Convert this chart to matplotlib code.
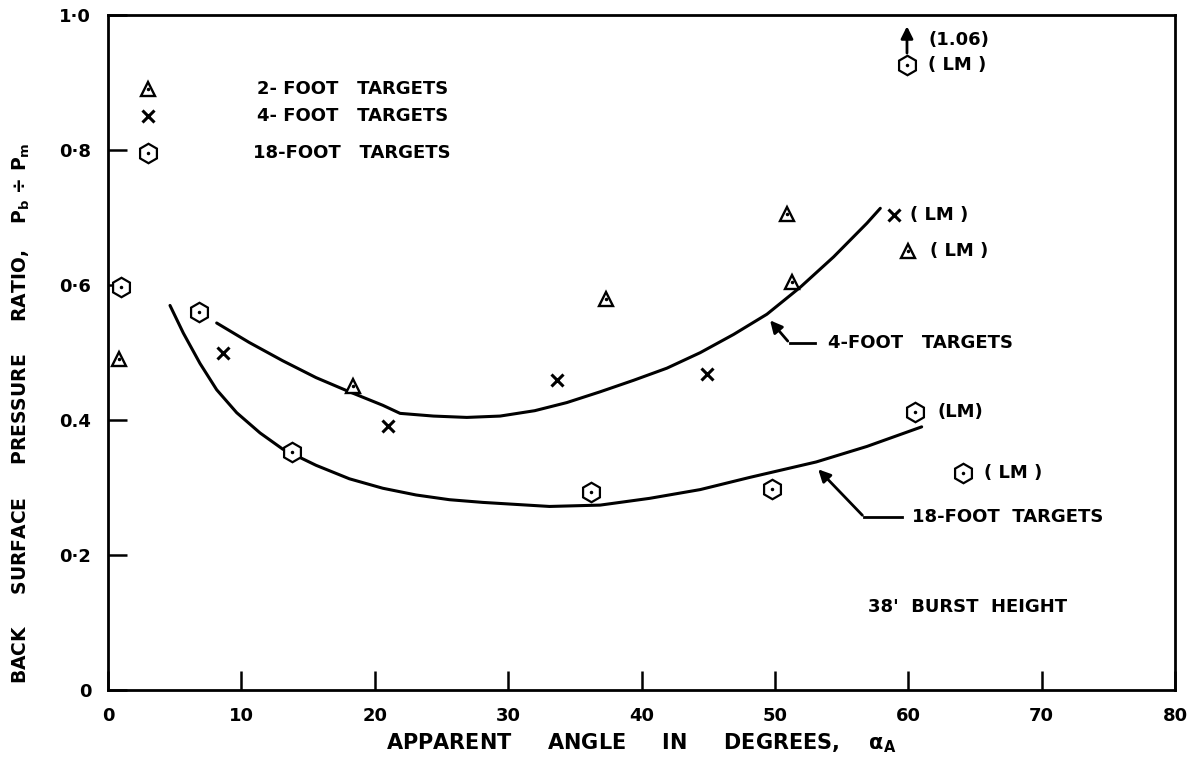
import matplotlib
matplotlib.use("Agg")
import matplotlib.pyplot as plt

plt.rcParams['font.family'] = ['DejaVu Sans']
plt.rcParams['font.weight'] = 'bold'
plt.rcParams['mathtext.default'] = 'bf'

# measured points
two_ft_x = [0.8, 18.4, 37.3, 50.9, 51.3, 60.0]
two_ft_y = [0.49, 0.45, 0.58, 0.705, 0.605, 0.65]
four_ft_x = [8.6, 21.0, 33.7, 44.9, 58.9]
four_ft_y = [0.50, 0.391, 0.46, 0.469, 0.704]
eighteen_ft_x = [1.0, 6.8, 13.8, 36.2, 49.8, 60.5, 64.1, 59.9]
eighteen_ft_y = [0.597, 0.561, 0.353, 0.293, 0.298, 0.412, 0.322, 0.926]

# faired curves
curve4_x = [8.15, 10.6, 13.1, 15.6, 18.1, 20.6, 21.9, 24.4, 26.9, 29.4, 32.0, 34.4, 36.9,
            39.4, 41.9, 44.4, 46.9, 49.4, 51.9, 54.4, 56.9, 57.9]
curve4_y = [0.544, 0.515, 0.488, 0.463, 0.442, 0.422, 0.410, 0.406, 0.404, 0.406, 0.414, 0.426, 0.442,
            0.459, 0.477, 0.500, 0.527, 0.557, 0.597, 0.642, 0.692, 0.714]
curve18_x = [4.65, 5.65, 6.9, 8.15, 9.65, 11.4, 13.1, 15.6, 18.1, 20.6, 23.1, 25.6, 28.1,
             30.6, 33.1, 36.9, 40.6, 44.4, 48.1, 53.1, 56.9, 61.0]
curve18_y = [0.570, 0.529, 0.484, 0.445, 0.411, 0.381, 0.357, 0.333, 0.313, 0.299, 0.289, 0.282, 0.278,
             0.275, 0.272, 0.274, 0.284, 0.297, 0.315, 0.338, 0.361, 0.390]

xticks = [0, 10, 20, 30, 40, 50, 60, 70, 80]
yticks = [0, 0.2, 0.4, 0.6, 0.8, 1.0]
ytick_labels = ['0', '0·2', '0.4', '0·6', '0·8', '1·0']

fig = plt.figure(figsize=(11.93, 7.70), dpi=100)
ax = fig.add_axes([0.0905, 0.104, 0.8945, 0.876])
ax.set_xlim(0, 80)
ax.set_ylim(0, 1.0)

ax.plot(curve4_x, curve4_y, color='black', lw=2.2, solid_capstyle='round', solid_joinstyle='round')
ax.plot(curve18_x, curve18_y, color='black', lw=2.2, solid_capstyle='round', solid_joinstyle='round')

tri = dict(ls='none', marker='^', ms=10.5, mfc='white', mec='black', mew=1.7)
hexa = dict(ls='none', marker='h', ms=14, mfc='white', mec='black', mew=1.6)
cross = dict(ls='none', marker='x', ms=9, mec='black', mew=2.2)
dot = dict(ls='none', marker='.', ms=3, color='black')

ax.plot(two_ft_x, two_ft_y, **tri)
ax.plot(two_ft_x, two_ft_y, **dot)
ax.plot(four_ft_x, four_ft_y, **cross)
ax.plot(eighteen_ft_x, eighteen_ft_y, **hexa)
ax.plot(eighteen_ft_x, eighteen_ft_y, **dot)

# legend drawn by hand, like the original
ax.plot([3.0], [0.891], **tri)
ax.plot([3.0], [0.891], **dot)
ax.plot([3.0], [0.851], **cross)
ax.plot([3.0], [0.796], **hexa)
ax.plot([3.0], [0.796], **dot)
fs = 13
ax.text(11.2, 0.891, '2- FOOT   TARGETS', fontsize=fs, va='center')
ax.text(11.2, 0.851, '4- FOOT   TARGETS', fontsize=fs, va='center')
ax.text(10.9, 0.796, '18-FOOT   TARGETS', fontsize=fs, va='center')

# LM notes
ax.text(60.1, 0.704, '( LM )', fontsize=fs, va='center')
ax.text(61.6, 0.650, '( LM )', fontsize=fs, va='center')
ax.text(62.2, 0.412, '(LM)', fontsize=fs, va='center')
ax.text(65.7, 0.322, '( LM )', fontsize=fs, va='center')
ax.text(61.5, 0.926, '( LM )', fontsize=fs, va='center')
ax.text(61.5, 0.963, '(1.06)', fontsize=fs, va='center')
ax.annotate('', xy=(59.9, 0.988), xytext=(59.9, 0.940),
            arrowprops=dict(arrowstyle='-|>', color='black', lw=2, mutation_scale=18))

# curve call-outs
ax.plot([51.1, 53.0], [0.514, 0.514], color='black', lw=2)
ax.annotate('', xy=(49.5, 0.551), xytext=(51.1, 0.514),
            arrowprops=dict(arrowstyle='-|>', color='black', lw=2, mutation_scale=18))
ax.text(54.0, 0.514, '4-FOOT   TARGETS', fontsize=fs, va='center')
ax.plot([56.7, 59.5], [0.256, 0.256], color='black', lw=2)
ax.annotate('', xy=(53.1, 0.330), xytext=(56.7, 0.256),
            arrowprops=dict(arrowstyle='-|>', color='black', lw=2, mutation_scale=18))
ax.text(60.3, 0.256, '18-FOOT  TARGETS', fontsize=fs, va='center')

ax.text(57.0, 0.123, "38'  BURST  HEIGHT", fontsize=fs, va='center')

ax.set_xticks(xticks)
ax.set_xticklabels([str(t) for t in xticks])
ax.set_yticks(yticks)
ax.set_yticklabels(ytick_labels)
ax.tick_params(direction='in', length=14, width=1.8, labelsize=13, pad=12)
for s in ax.spines.values():
    s.set_linewidth(2)

ax.set_xlabel('APPARENT     ANGLE     IN     DEGREES,    $\\alpha_A$', fontsize=15, fontweight='bold')
ax.xaxis.set_label_coords(0.5, -0.062)
ax.set_ylabel('BACK     SURFACE     PRESSURE     RATIO,    P$_b$ ÷ P$_m$', fontsize=13.5, fontweight='bold')
ax.yaxis.set_label_coords(-0.071, 0.41)

fig.savefig('out.png', dpi=100)
